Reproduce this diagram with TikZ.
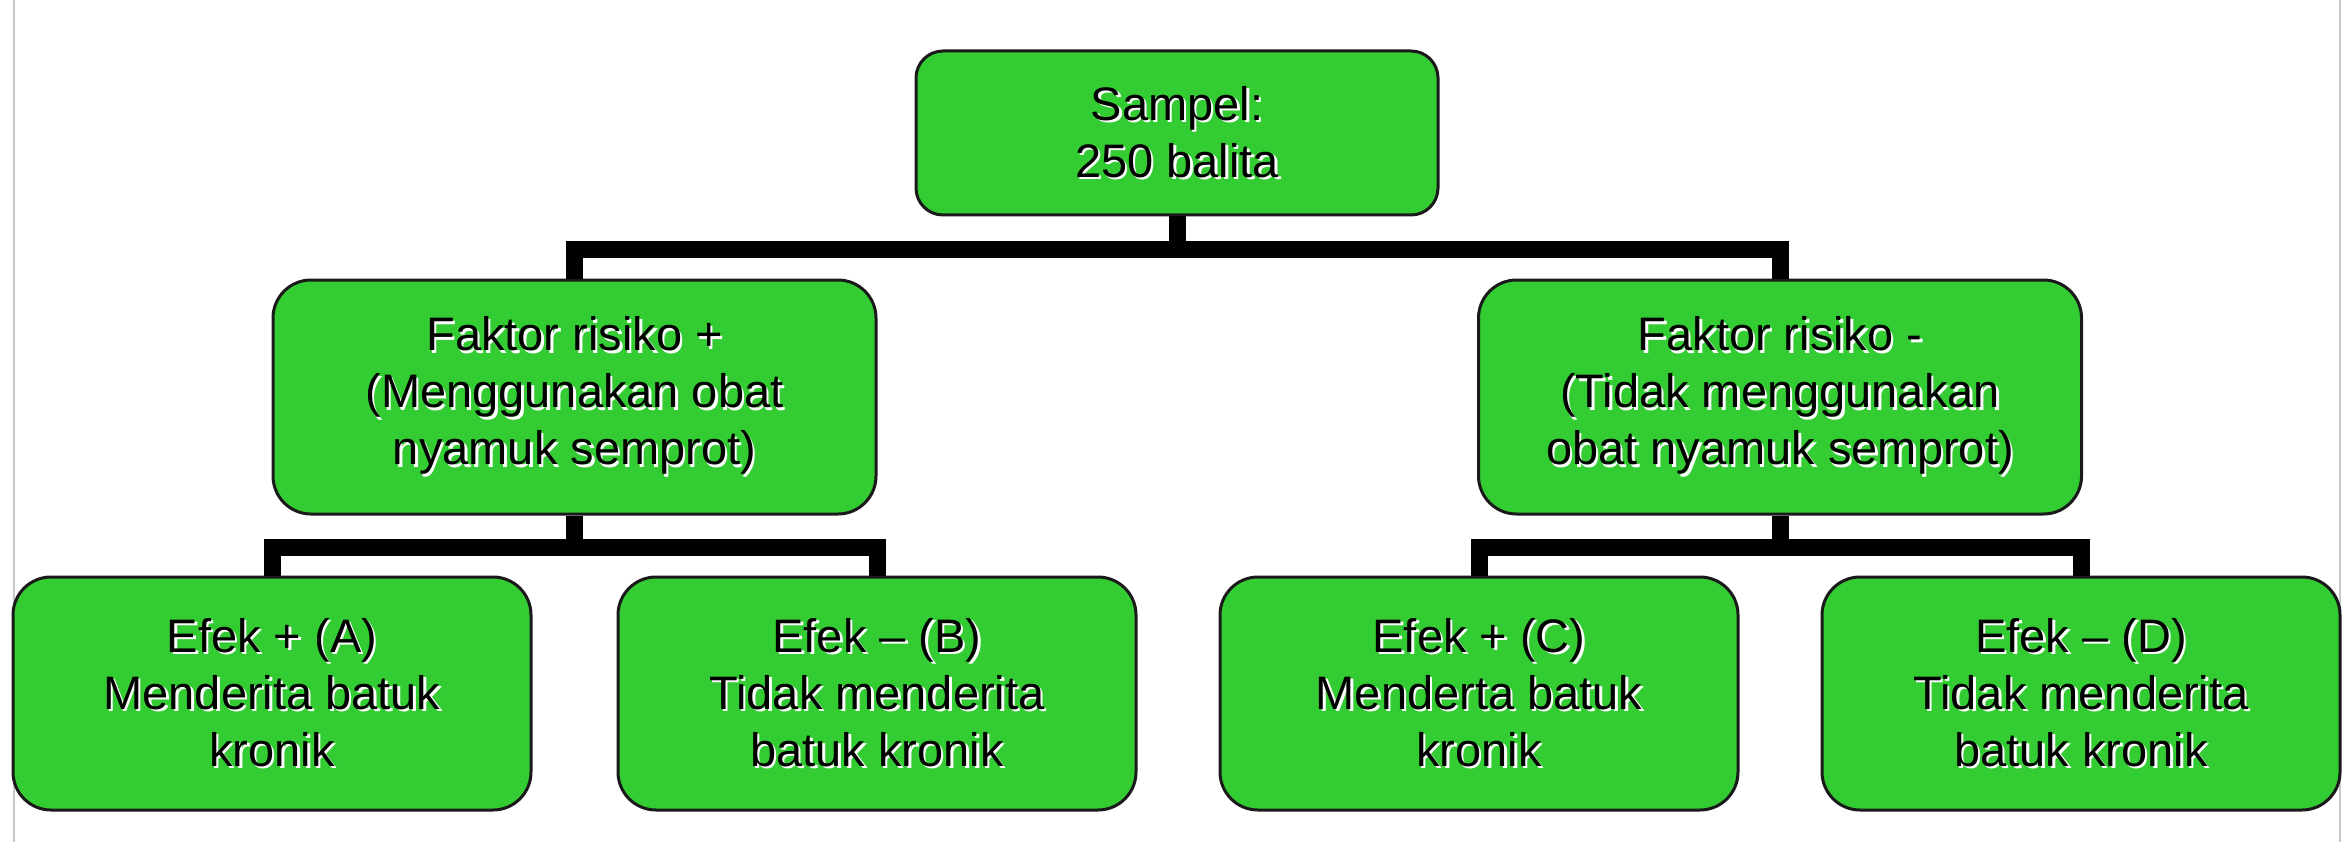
\documentclass[tikz,border=0pt]{standalone}
\usepackage{fontspec}
\setmainfont{Liberation Sans}
\definecolor{khGreen}{HTML}{33CC33}
\definecolor{khInk}{HTML}{000000}
\definecolor{khEdge}{HTML}{1A1A1A}
\definecolor{khRule}{HTML}{C8C8C8}
\newcommand{\KHType}{\fontsize{47}{57}\selectfont}
% black line over a white drop shadow
\newcommand{\KHLine}[1]{\rlap{\kern2.5pt\raisebox{-2.5pt}{\textcolor{white}{#1}}}#1}
\tikzset{kh/base/.style={x=1pt,y=1pt,line cap=butt,line join=miter,
  every node/.style={font=\KHType,inner sep=0pt,text=khInk}},
  kh/box/.style={draw=khEdge,fill=khGreen,line width=3pt,rounded corners=38pt,
    minimum width=518pt,minimum height=233pt,align=center},
  kh/mid/.style={kh/box,minimum width=603pt,minimum height=234pt},
  kh/link/.style={draw=khInk,line width=17pt}}

\begin{document}
\begin{tikzpicture}[kh/base,y=-1pt]
  \useasboundingbox (0,0) rectangle (2349,842);
  \draw[khRule,line width=2pt] (14,0)--(14,842) (2340,0)--(2340,842);
  % root
  \node[kh/box,rounded corners=27pt,minimum width=522pt,minimum height=164pt]
    (sampel) at (1177,133) {\KHLine{Sampel:}\\\KHLine{250 balita}};
  % exposure groups
  \node[kh/mid] (fplus) at (574.5,397)
    {\KHLine{Faktor risiko +}\\\KHLine{(Menggunakan obat}\\\KHLine{nyamuk semprot)}};
  \node[kh/mid] (fminus) at (1780,397)
    {\KHLine{Faktor risiko -}\\\KHLine{(Tidak menggunakan}\\\KHLine{obat nyamuk semprot)}};
  % outcomes
  \node[kh/box] (efA) at (272,693.5)
    {\KHLine{Efek + (A)}\\\KHLine{Menderita batuk}\\\KHLine{kronik}};
  \node[kh/box] (efB) at (877,693.5)
    {\KHLine{Efek -- (B)}\\\KHLine{Tidak menderita}\\\KHLine{batuk kronik}};
  \node[kh/box] (efC) at (1479,693.5)
    {\KHLine{Efek + (C)}\\\KHLine{Menderta batuk}\\\KHLine{kronik}};
  \node[kh/box] (efD) at (2081,693.5)
    {\KHLine{Efek -- (D)}\\\KHLine{Tidak menderita}\\\KHLine{batuk kronik}};
  % elbow links
  \foreach \up/\down in {sampel/fplus,sampel/fminus}{
    \draw[kh/link] (\up.south) -- ++(0,33) -| (\down.north);}
  \foreach \up/\down in {fplus/efA,fplus/efB,fminus/efC,fminus/efD}{
    \draw[kh/link] (\up.south) -- ++(0,32) -| (\down.north);}
\end{tikzpicture}
\end{document}
